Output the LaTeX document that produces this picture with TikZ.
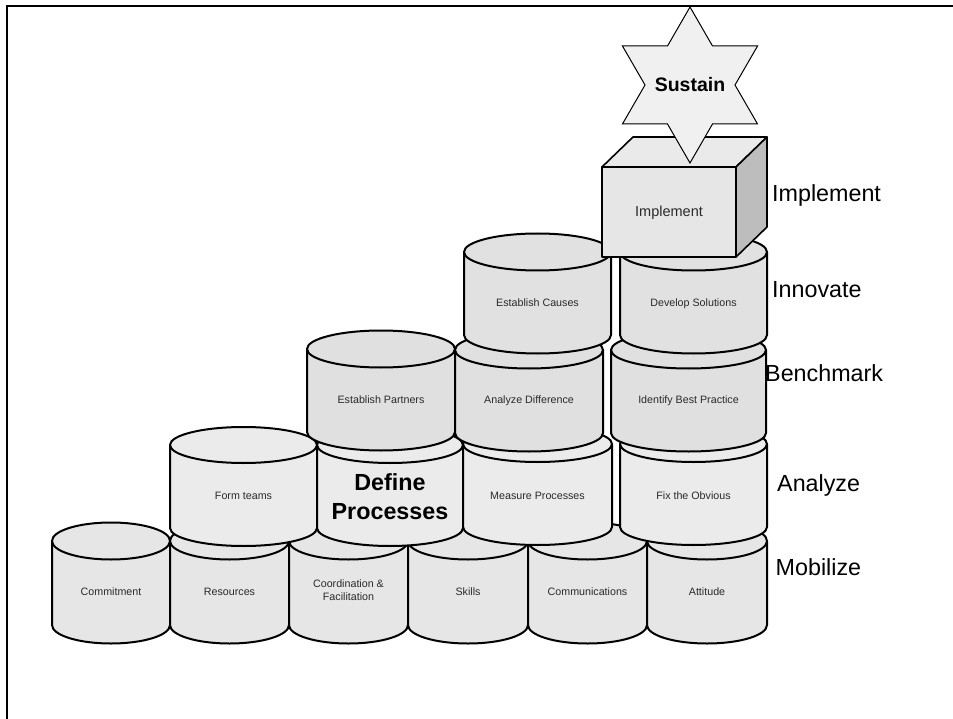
\documentclass[tikz,border=0pt]{standalone}
\usepackage{fontspec}
\setmainfont{Liberation Sans}
\definecolor{rowA}{HTML}{E6E6E6}
\definecolor{rowB}{HTML}{EBEBEB}
\definecolor{rowC}{HTML}{E0E0E0}
\definecolor{rowD}{HTML}{E1E1E1}
\definecolor{boxfront}{HTML}{E6E6E6}
\definecolor{boxtop}{HTML}{EAEAEA}
\definecolor{boxside}{HTML}{BDBDBD}
\definecolor{starfill}{HTML}{F0F0F0}
\definecolor{smallink}{HTML}{2A2A2A}
\newcommand\mycyl[6]{% L, R, yTop, yBottom, ry, fill
  \pgfmathsetmacro\cylcx{(#1+#2)/2}%
  \pgfmathsetmacro\cylrx{(#2-#1)/2}%
  \filldraw[cylline,fill=#6] (#1,-#3) -- (#1,-#4)
     arc[start angle=180,end angle=360,x radius=\cylrx pt,y radius=#5pt]
     -- (#2,-#3) -- cycle;
  \filldraw[cylline,fill=#6] (\cylcx,-#3) ellipse[x radius=\cylrx pt,y radius=#5pt];
}
\tikzset{
  cylline/.style={line width=2pt,draw=black,line join=round},
  cyltext/.style={font=\fontsize{10.7}{13}\selectfont,text=smallink,inner sep=0pt,anchor=base},
  cyltwo/.style={font=\fontsize{10.7}{13}\selectfont,text=smallink,inner sep=0pt,align=center,anchor=center},
  steplabel/.style={font=\fontsize{23.3}{27}\selectfont,inner sep=0pt,anchor=base west},
}
\begin{document}
\begin{tikzpicture}[x=1pt,y=1pt]
\useasboundingbox (0,0) rectangle (953,-719);
\fill[white] (0,0) rectangle (953,-719);
% frame
\draw[line width=2.4pt] (7,-719) -- (7,-6) -- (953,-6);

% Mobilize row
\mycyl{52}{170}{541}{625}{18.5}{rowA}
\mycyl{170}{289}{541}{625}{18.5}{rowA}
\mycyl{289}{408}{541}{625}{18.5}{rowA}
\mycyl{408}{528}{541}{625}{18.5}{rowA}
\mycyl{528}{647}{541}{625}{18.5}{rowA}
\mycyl{647}{767}{541}{625}{18.5}{rowA}
\node[cyltext] (commit) at (111,-595) {Commitment};
\node[cyltext] (resources) at (229.5,-595) {Resources};
\node[cyltwo] (coord) at (348.5,-590.5) {Coordination \&\\Facilitation};
\node[cyltext] (skills) at (468,-595) {Skills};
\node[cyltext] (comms) at (587.5,-595) {Communications};
\node[cyltext] (attitude) at (707,-595) {Attitude};

% Analyze row
\mycyl{170}{317}{445}{528}{18}{rowB}
\mycyl{317}{463}{445}{528}{18}{rowB}
\mycyl{463}{612}{444}{527}{18}{rowB}
\mycyl{620}{767}{444}{527}{18}{rowB}
\node[cyltext] (form) at (243.5,-499) {Form teams};
\node[font=\bfseries\fontsize{23.3}{29}\selectfont,inner sep=0pt,anchor=base] (define) at (390,-490) {Define};
\node[font=\bfseries\fontsize{23.3}{29}\selectfont,inner sep=0pt,anchor=base] (processes) at (390,-519) {Processes};
\node[cyltext] (measure) at (537.5,-499) {Measure Processes};
\node[cyltext] (fix) at (693.5,-499) {Fix the Obvious};

% Benchmark row
\mycyl{307}{455}{349}{432}{18.5}{rowC}
\mycyl{455}{603}{350}{433}{18.5}{rowC}
\mycyl{611}{766}{350}{433}{18.5}{rowC}
\node[cyltext] (partners) at (381,-403) {Establish Partners};
\node[cyltext] (difference) at (529,-403) {Analyze Difference};
\node[cyltext] (best) at (688.5,-403) {Identify Best Practice};

% Innovate row
\mycyl{464}{611}{252}{335}{18.5}{rowD}
\mycyl{620}{767}{252}{335}{18.5}{rowD}
\node[cyltext] (causes) at (537.5,-306) {Establish Causes};
\node[cyltext] (solutions) at (693.5,-306) {Develop Solutions};

% Implement box
\filldraw[line width=1.6pt,line join=round,fill=boxtop] (602,-167) -- (633,-137) -- (767,-137) -- (736,-167) -- cycle;
\filldraw[line width=1.6pt,line join=round,fill=boxside] (736,-167) -- (767,-137) -- (767,-227) -- (736,-257) -- cycle;
\filldraw[line width=1.6pt,line join=round,fill=boxfront] (602,-167) rectangle (736,-257);
\node[font=\fontsize{14.5}{17}\selectfont,text=smallink,inner sep=0pt,anchor=base] (implbox) at (669,-217) {Implement};

% Sustain star
\filldraw[line width=1pt,line join=miter,fill=starfill]
  (690,-7) -- (712.5,-46) -- (757.55,-46) -- (735,-85) -- (757.55,-124) -- (712.5,-124)
  -- (690,-163) -- (667.5,-124) -- (622.45,-124) -- (645,-85) -- (622.45,-46) -- (667.5,-46) -- cycle;
\node[font=\bfseries\fontsize{19.5}{23}\selectfont,inner sep=0pt,anchor=base] (sustain) at (690,-92) {Sustain};

% stage labels
\node[steplabel] (lblimpl) at (772,-202) {Implement};
\node[steplabel] (lblinno) at (772,-298) {Innovate};
\node[steplabel] (lblbench) at (765,-381.5) {Benchmark};
\node[steplabel] (lblanal) at (777,-491.5) {Analyze};
\node[steplabel] (lblmob) at (775.5,-575) {Mobilize};
\end{tikzpicture}
\end{document}
